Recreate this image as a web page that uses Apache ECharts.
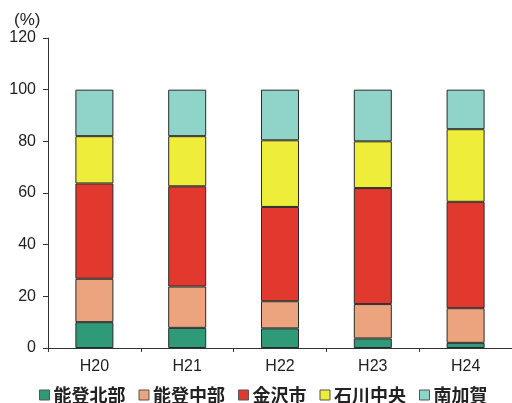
<!DOCTYPE html>
<html>
<head>
<meta charset="utf-8">
<script src="https://cdn.jsdelivr.net/npm/echarts@6/dist/echarts.min.js"></script>
<style>
  html, body { margin: 0; padding: 0; background: #fff; }
  #chart { width: 512px; height: 403px; }
</style>
</head>
<body>
<div id="chart"></div>
<script>
// 年度
const categories = ['H20', 'H21', 'H22', 'H23', 'H24'];

// 地域別構成比 (%)
const notoHokubu  = [10.0, 7.8, 7.6, 3.7, 2.0];
const notoChubu   = [16.8, 16.0, 10.5, 13.3, 13.4];
const kanazawa    = [36.9, 38.8, 36.5, 44.9, 41.2];
const ishikawaChuo = [18.3, 19.4, 25.8, 18.1, 28.1];
const minamiKaga  = [18.0, 18.0, 19.6, 20.0, 15.3];

const yTicks = [0, 20, 40, 60, 80, 100, 120];

const seriesDefs = [
  { name: '能登北部', data: notoHokubu, color: '#2f9a78' },
  { name: '能登中部', data: notoChubu, color: '#eca47f' },
  { name: '金沢市', data: kanazawa, color: '#e2392e' },
  { name: '石川中央', data: ishikawaChuo, color: '#eded3a' },
  { name: '南加賀', data: minamiKaga, color: '#8fd3c9' }
];

const chart = echarts.init(document.getElementById('chart'), null, { renderer: 'canvas' });

const fontFamily = 'Liberation Sans, Arial, sans-serif';
const cjkFont = 'Noto Sans CJK JP, sans-serif';

chart.setOption({
  animation: false,
  backgroundColor: '#ffffff',
  grid: { left: 48, top: 38, width: 467, height: 310, containLabel: false },
  title: {
    text: '(%)',
    left: 9, top: 7,
    textStyle: { fontFamily: fontFamily, fontSize: 17, fontWeight: 'normal', color: '#222' }
  },
  legend: {
    top: 381,
    left: 34,
    padding: 5,
    itemWidth: 10,
    itemHeight: 10,
    itemGap: 13,
    icon: 'rect',
    textStyle: { fontFamily: cjkFont, fontSize: 18, fontWeight: 'bold', color: '#222', padding: [0, 0, 0, -1] },
    data: seriesDefs.map(s => ({ name: s.name, itemStyle: { borderColor: '#555', borderWidth: 1 } }))
  },
  xAxis: {
    type: 'category',
    data: categories,
    axisLine: { lineStyle: { color: '#333', width: 1 } },
    axisTick: { show: true, alignWithLabel: false, inside: false, length: 4, lineStyle: { color: '#333' } },
    axisLabel: { fontFamily: fontFamily, fontSize: 16, color: '#222', margin: 11 }
  },
  yAxis: {
    type: 'value',
    min: yTicks[0],
    max: yTicks[yTicks.length - 1],
    interval: 20,
    splitLine: { show: false },
    axisLine: { show: true, lineStyle: { color: '#333', width: 1 } },
    axisTick: { show: true, length: 5, lineStyle: { color: '#333' } },
    axisLabel: { fontFamily: fontFamily, fontSize: 16, color: '#222', margin: 12 }
  },
  series: seriesDefs.map(s => ({
    name: s.name,
    type: 'bar',
    stack: 'total',
    data: s.data,
    barWidth: 38,
    itemStyle: { color: s.color, borderColor: '#2a2a2a', borderWidth: 1 }
  }))
});
</script>
</body>
</html>
